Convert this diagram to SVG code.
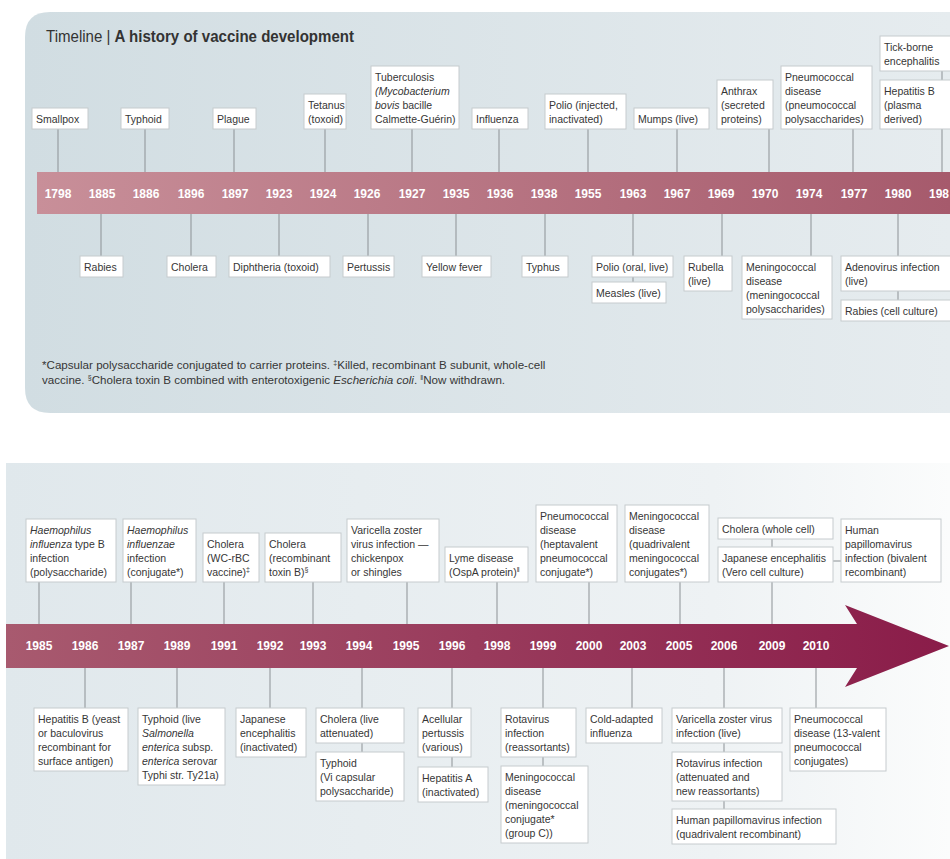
<svg xmlns="http://www.w3.org/2000/svg" width="950" height="859" viewBox="0 0 950 859">
<defs>
  <linearGradient id="panelTop" x1="0" x2="1" y1="0" y2="0">
    <stop offset="0" stop-color="#d1dde2"/>
    <stop offset="1" stop-color="#e6ecef"/>
  </linearGradient>
  <linearGradient id="panelBottom" x1="0" x2="1" y1="0" y2="0">
    <stop offset="0" stop-color="#e0e8ec"/>
    <stop offset="0.75" stop-color="#eef2f4"/>
    <stop offset="1" stop-color="#fbfcfc"/>
  </linearGradient>
  <linearGradient id="barTop" x1="0" x2="1" y1="0" y2="0">
    <stop offset="0" stop-color="#c88f99"/>
    <stop offset="1" stop-color="#a65a6c"/>
  </linearGradient>
  <linearGradient id="barBottom" x1="0" x2="1" y1="0" y2="0">
    <stop offset="0" stop-color="#a85a6f"/>
    <stop offset="1" stop-color="#8a1c49"/>
  </linearGradient>
  <style>
    .box { fill: #ffffff; stroke: #c6cbce; stroke-width: 1; }
    .lbl { font-family: "Liberation Sans", Arial, sans-serif; font-size: 10.5px; fill: #363636; }
    .note { font-family: "Liberation Sans", Arial, sans-serif; font-size: 11.6px; fill: #363636; }
    .yr { font-family: "Liberation Sans", Arial, sans-serif; font-size: 12px; font-weight: bold; fill: #ffffff; text-anchor: middle; }
    .ln { stroke: #8c9195; stroke-width: 1; fill: none; }
    .it { font-style: italic; }
    .sup { font-size: 7px; }
  </style>
</defs>

<!-- background panels -->
<rect x="0" y="0" width="950" height="859" fill="#ffffff"/>
<path d="M25,37 Q25,12 50,12 H950 V413 H50 Q25,413 25,388 Z" fill="url(#panelTop)"/>
<rect x="6" y="463" width="944" height="396" fill="url(#panelBottom)"/>

<!-- title -->
<text x="46" y="42" font-family="'Liberation Sans', Arial, sans-serif" font-size="16" fill="#333333" textLength="308" lengthAdjust="spacingAndGlyphs">Timeline | <tspan font-weight="bold">A history of vaccine development</tspan></text>

<!-- timeline bars -->
<rect x="37" y="172" width="913" height="42" fill="url(#barTop)"/>
<polygon points="6,624 857,624 845,605 949,646 845,687 857,668 6,668" fill="url(#barBottom)"/>

<!-- years, upper timeline -->
<g id="years-top">
  <text class="yr" x="58" y="197.5">1798</text>
  <text class="yr" x="102" y="197.5">1885</text>
  <text class="yr" x="146" y="197.5">1886</text>
  <text class="yr" x="191" y="197.5">1896</text>
  <text class="yr" x="235" y="197.5">1897</text>
  <text class="yr" x="279" y="197.5">1923</text>
  <text class="yr" x="323" y="197.5">1924</text>
  <text class="yr" x="367" y="197.5">1926</text>
  <text class="yr" x="412" y="197.5">1927</text>
  <text class="yr" x="456" y="197.5">1935</text>
  <text class="yr" x="500" y="197.5">1936</text>
  <text class="yr" x="544" y="197.5">1938</text>
  <text class="yr" x="588" y="197.5">1955</text>
  <text class="yr" x="633" y="197.5">1963</text>
  <text class="yr" x="677" y="197.5">1967</text>
  <text class="yr" x="721" y="197.5">1969</text>
  <text class="yr" x="765" y="197.5">1970</text>
  <text class="yr" x="809" y="197.5">1974</text>
  <text class="yr" x="854" y="197.5">1977</text>
  <text class="yr" x="898" y="197.5">1980</text>
  <text class="yr" x="929" y="197.5" style="text-anchor:start">198</text>
</g>

<!-- years, lower timeline -->
<g id="years-bottom">
  <text class="yr" x="39" y="649.5">1985</text>
  <text class="yr" x="85" y="649.5">1986</text>
  <text class="yr" x="131" y="649.5">1987</text>
  <text class="yr" x="177" y="649.5">1989</text>
  <text class="yr" x="224" y="649.5">1991</text>
  <text class="yr" x="270" y="649.5">1992</text>
  <text class="yr" x="313" y="649.5">1993</text>
  <text class="yr" x="359" y="649.5">1994</text>
  <text class="yr" x="406" y="649.5">1995</text>
  <text class="yr" x="452" y="649.5">1996</text>
  <text class="yr" x="497" y="649.5">1998</text>
  <text class="yr" x="543" y="649.5">1999</text>
  <text class="yr" x="589" y="649.5">2000</text>
  <text class="yr" x="633" y="649.5">2003</text>
  <text class="yr" x="679" y="649.5">2005</text>
  <text class="yr" x="724" y="649.5">2006</text>
  <text class="yr" x="772" y="649.5">2009</text>
  <text class="yr" x="816" y="649.5">2010</text>
</g>

<!-- connectors -->
<g id="connectors" class="ln">
  <line x1="58" y1="129" x2="58" y2="172"/>
  <line x1="145" y1="129" x2="145" y2="172"/>
  <line x1="234" y1="129" x2="234" y2="172"/>
  <line x1="325" y1="129" x2="325" y2="172"/>
  <line x1="412" y1="129" x2="412" y2="172"/>
  <line x1="499" y1="129" x2="499" y2="172"/>
  <line x1="588" y1="129" x2="588" y2="172"/>
  <line x1="677" y1="129" x2="677" y2="172"/>
  <line x1="769" y1="129" x2="769" y2="172"/>
  <line x1="853" y1="129" x2="853" y2="172"/>
  <line x1="942" y1="129" x2="942" y2="172"/>
  <line x1="942" y1="71" x2="942" y2="80"/>

  <line x1="101" y1="214" x2="101" y2="256"/>
  <line x1="191" y1="214" x2="191" y2="256"/>
  <line x1="279" y1="214" x2="279" y2="256"/>
  <line x1="368" y1="214" x2="368" y2="256"/>
  <line x1="456" y1="214" x2="456" y2="256"/>
  <line x1="545" y1="214" x2="545" y2="256"/>
  <line x1="633" y1="214" x2="633" y2="256"/>
  <line x1="722" y1="214" x2="722" y2="256"/>
  <line x1="811" y1="214" x2="811" y2="256"/>
  <line x1="898" y1="214" x2="898" y2="256"/>
  <line x1="633" y1="277" x2="633" y2="282"/>
  <line x1="898" y1="291" x2="898" y2="300"/>

  <line x1="39" y1="582" x2="39" y2="624"/>
  <line x1="131" y1="582" x2="131" y2="624"/>
  <line x1="224" y1="582" x2="224" y2="624"/>
  <line x1="313" y1="582" x2="313" y2="624"/>
  <line x1="407" y1="582" x2="407" y2="624"/>
  <line x1="497" y1="582" x2="497" y2="624"/>
  <line x1="589" y1="582" x2="589" y2="624"/>
  <line x1="680" y1="582" x2="680" y2="624"/>
  <line x1="772" y1="582" x2="772" y2="624"/>
  <line x1="772" y1="539" x2="772" y2="547"/>
  <line x1="833" y1="561" x2="841" y2="561"/>

  <line x1="85" y1="668" x2="85" y2="708"/>
  <line x1="177" y1="668" x2="177" y2="708"/>
  <line x1="270" y1="668" x2="270" y2="708"/>
  <line x1="362" y1="668" x2="362" y2="708"/>
  <line x1="452" y1="668" x2="452" y2="708"/>
  <line x1="543" y1="668" x2="543" y2="708"/>
  <line x1="632" y1="668" x2="632" y2="708"/>
  <line x1="724" y1="668" x2="724" y2="708"/>
  <line x1="816" y1="668" x2="816" y2="708"/>
  <line x1="362" y1="743" x2="362" y2="752"/>
  <line x1="452" y1="757" x2="452" y2="767"/>
  <line x1="543" y1="757" x2="543" y2="766"/>
  <line x1="724" y1="743" x2="724" y2="752"/>
  <line x1="724" y1="801" x2="724" y2="809"/>
</g>

<!-- upper timeline, events above the bar -->
<g id="smallpox"><rect class="box" x="32" y="108" width="56" height="21"/><text class="lbl" x="36" y="122.5">Smallpox</text></g>
<g id="typhoid-1896"><rect class="box" x="121" y="108" width="48" height="21"/><text class="lbl" x="125" y="122.5">Typhoid</text></g>
<g id="plague"><rect class="box" x="213" y="108" width="43" height="21"/><text class="lbl" x="217" y="122.5">Plague</text></g>
<g id="tetanus"><rect class="box" x="304" y="94" width="42" height="35"/><text class="lbl" x="308" y="108.5"><tspan x="308">Tetanus</tspan><tspan x="308" dy="14">(toxoid)</tspan></text></g>
<g id="tuberculosis"><rect class="box" x="371" y="66" width="88" height="63"/><text class="lbl" x="375" y="80.5"><tspan x="375">Tuberculosis</tspan><tspan x="375" dy="14" class="it">(Mycobacterium</tspan><tspan x="375" dy="14"><tspan class="it">bovis</tspan> bacille</tspan><tspan x="375" dy="14">Calmette-Guérin)</tspan></text></g>
<g id="influenza"><rect class="box" x="472" y="108" width="56" height="21"/><text class="lbl" x="476" y="122.5">Influenza</text></g>
<g id="polio-injected"><rect class="box" x="545" y="94" width="81" height="35"/><text class="lbl" x="549" y="108.5"><tspan x="549">Polio (injected,</tspan><tspan x="549" dy="14">inactivated)</tspan></text></g>
<g id="mumps"><rect class="box" x="634" y="108" width="75" height="21"/><text class="lbl" x="638" y="122.5">Mumps (live)</text></g>
<g id="anthrax"><rect class="box" x="717" y="80" width="56" height="49"/><text class="lbl" x="721" y="94.5"><tspan x="721">Anthrax</tspan><tspan x="721" dy="14">(secreted</tspan><tspan x="721" dy="14">proteins)</tspan></text></g>
<g id="pneumococcal-1977"><rect class="box" x="781" y="66" width="91" height="63"/><text class="lbl" x="785" y="80.5"><tspan x="785">Pneumococcal</tspan><tspan x="785" dy="14">disease</tspan><tspan x="785" dy="14">(pneumococcal</tspan><tspan x="785" dy="14">polysaccharides)</tspan></text></g>
<g id="hepatitis-b-plasma"><rect class="box" x="880" y="80" width="80" height="49"/><text class="lbl" x="884" y="94.5"><tspan x="884">Hepatitis B</tspan><tspan x="884" dy="14">(plasma</tspan><tspan x="884" dy="14">derived)</tspan></text></g>
<g id="tick-borne"><rect class="box" x="880" y="36" width="80" height="35"/><text class="lbl" x="884" y="50.5"><tspan x="884">Tick-borne</tspan><tspan x="884" dy="14">encephalitis</tspan></text></g>

<!-- upper timeline, events below the bar -->
<g id="rabies"><rect class="box" x="80" y="256" width="43" height="21"/><text class="lbl" x="84" y="270.5">Rabies</text></g>
<g id="cholera-1896"><rect class="box" x="167" y="256" width="49" height="21"/><text class="lbl" x="171" y="270.5">Cholera</text></g>
<g id="diphtheria"><rect class="box" x="229" y="256" width="101" height="21"/><text class="lbl" x="233" y="270.5">Diphtheria (toxoid)</text></g>
<g id="pertussis"><rect class="box" x="343" y="256" width="51" height="21"/><text class="lbl" x="347" y="270.5">Pertussis</text></g>
<g id="yellow-fever"><rect class="box" x="422" y="256" width="69" height="21"/><text class="lbl" x="426" y="270.5">Yellow fever</text></g>
<g id="typhus"><rect class="box" x="522" y="256" width="46" height="21"/><text class="lbl" x="526" y="270.5">Typhus</text></g>
<g id="polio-oral"><rect class="box" x="592" y="256" width="81" height="21"/><text class="lbl" x="596" y="270.5">Polio (oral, live)</text></g>
<g id="measles"><rect class="box" x="592" y="282" width="74" height="21"/><text class="lbl" x="596" y="296.5">Measles (live)</text></g>
<g id="rubella"><rect class="box" x="684" y="256" width="48" height="35"/><text class="lbl" x="688" y="270.5"><tspan x="688">Rubella</tspan><tspan x="688" dy="14">(live)</tspan></text></g>
<g id="meningococcal-1974"><rect class="box" x="742" y="256" width="90" height="63"/><text class="lbl" x="746" y="270.5"><tspan x="746">Meningococcal</tspan><tspan x="746" dy="14">disease</tspan><tspan x="746" dy="14">(meningococcal</tspan><tspan x="746" dy="14">polysaccharides)</tspan></text></g>
<g id="adenovirus"><rect class="box" x="841" y="256" width="115" height="35"/><text class="lbl" x="845" y="270.5"><tspan x="845">Adenovirus infection</tspan><tspan x="845" dy="14">(live)</tspan></text></g>
<g id="rabies-cell-culture"><rect class="box" x="841" y="300" width="115" height="21"/><text class="lbl" x="845" y="314.5">Rabies (cell culture)</text></g>

<!-- footnotes -->
<text class="note" x="42" y="369">*Capsular polysaccharide conjugated to carrier proteins. <tspan class="sup" dy="-4">‡</tspan><tspan dy="4">Killed, recombinant B subunit, whole-cell</tspan></text>
<text class="note" x="42" y="384">vaccine. <tspan class="sup" dy="-4">§</tspan><tspan dy="4">Cholera toxin B combined with enterotoxigenic </tspan><tspan class="it">Escherichia coli</tspan>. <tspan class="sup" dy="-4">‖</tspan><tspan dy="4">Now withdrawn.</tspan></text>

<!-- lower timeline, events above the bar -->
<g id="hib-polysaccharide"><rect class="box" x="26" y="519" width="90" height="63"/><text class="lbl" x="30" y="533.5"><tspan x="30" class="it">Haemophilus</tspan><tspan x="30" dy="14"><tspan class="it">influenza</tspan> type B</tspan><tspan x="30" dy="14">infection</tspan><tspan x="30" dy="14">(polysaccharide)</tspan></text></g>
<g id="hib-conjugate"><rect class="box" x="123" y="519" width="73" height="63"/><text class="lbl" x="127" y="533.5"><tspan x="127" class="it">Haemophilus</tspan><tspan x="127" dy="14" class="it">influenzae</tspan><tspan x="127" dy="14">infection</tspan><tspan x="127" dy="14">(conjugate*)</tspan></text></g>
<g id="cholera-wc-rbc"><rect class="box" x="203" y="533" width="56" height="49"/><text class="lbl" x="207" y="547.5"><tspan x="207">Cholera</tspan><tspan x="207" dy="14">(WC-rBC</tspan><tspan x="207" dy="14">vaccine)</tspan><tspan class="sup" dy="-4">‡</tspan></text></g>
<g id="cholera-toxin-b"><rect class="box" x="265" y="533" width="76" height="49"/><text class="lbl" x="269" y="547.5"><tspan x="269">Cholera</tspan><tspan x="269" dy="14">(recombinant</tspan><tspan x="269" dy="14">toxin B)</tspan><tspan class="sup" dy="-4">§</tspan></text></g>
<g id="varicella-1995"><rect class="box" x="347" y="519" width="92" height="63"/><text class="lbl" x="351" y="533.5"><tspan x="351">Varicella zoster</tspan><tspan x="351" dy="14">virus infection —</tspan><tspan x="351" dy="14">chickenpox</tspan><tspan x="351" dy="14">or shingles</tspan></text></g>
<g id="lyme"><rect class="box" x="445" y="547" width="83" height="35"/><text class="lbl" x="449" y="561.5"><tspan x="449">Lyme disease</tspan><tspan x="449" dy="14">(OspA protein)</tspan><tspan class="sup" dy="-4">‖</tspan></text></g>
<g id="pneumococcal-heptavalent"><rect class="box" x="536" y="505" width="81" height="77"/><text class="lbl" x="540" y="519.5"><tspan x="540">Pneumococcal</tspan><tspan x="540" dy="14">disease</tspan><tspan x="540" dy="14">(heptavalent</tspan><tspan x="540" dy="14">pneumococcal</tspan><tspan x="540" dy="14">conjugate*)</tspan></text></g>
<g id="meningococcal-quadrivalent"><rect class="box" x="625" y="505" width="84" height="77"/><text class="lbl" x="629" y="519.5"><tspan x="629">Meningococcal</tspan><tspan x="629" dy="14">disease</tspan><tspan x="629" dy="14">(quadrivalent</tspan><tspan x="629" dy="14">meningococcal</tspan><tspan x="629" dy="14">conjugates*)</tspan></text></g>
<g id="cholera-whole-cell"><rect class="box" x="718" y="518" width="115" height="21"/><text class="lbl" x="722" y="532.5">Cholera (whole cell)</text></g>
<g id="japanese-encephalitis-vero"><rect class="box" x="718" y="547" width="115" height="35"/><text class="lbl" x="722" y="561.5"><tspan x="722">Japanese encephalitis</tspan><tspan x="722" dy="14">(Vero cell culture)</tspan></text></g>
<g id="hpv-bivalent"><rect class="box" x="841" y="519" width="100" height="63"/><text class="lbl" x="845" y="533.5"><tspan x="845">Human</tspan><tspan x="845" dy="14">papillomavirus</tspan><tspan x="845" dy="14">infection (bivalent</tspan><tspan x="845" dy="14">recombinant)</tspan></text></g>

<!-- lower timeline, events below the bar -->
<g id="hepatitis-b-recombinant"><rect class="box" x="34" y="708" width="94" height="63"/><text class="lbl" x="38" y="722.5"><tspan x="38">Hepatitis B (yeast</tspan><tspan x="38" dy="14">or baculovirus</tspan><tspan x="38" dy="14">recombinant for</tspan><tspan x="38" dy="14">surface antigen)</tspan></text></g>
<g id="typhoid-ty21a"><rect class="box" x="138" y="708" width="87" height="77"/><text class="lbl" x="142" y="722.5"><tspan x="142">Typhoid (live</tspan><tspan x="142" dy="14" class="it">Salmonella</tspan><tspan x="142" dy="14"><tspan class="it">enterica</tspan> subsp.</tspan><tspan x="142" dy="14"><tspan class="it">enterica</tspan> serovar</tspan><tspan x="142" dy="14">Typhi str. Ty21a)</tspan></text></g>
<g id="japanese-encephalitis-inactivated"><rect class="box" x="236" y="708" width="70" height="49"/><text class="lbl" x="240" y="722.5"><tspan x="240">Japanese</tspan><tspan x="240" dy="14">encephalitis</tspan><tspan x="240" dy="14">(inactivated)</tspan></text></g>
<g id="cholera-live"><rect class="box" x="316" y="708" width="88" height="35"/><text class="lbl" x="320" y="722.5"><tspan x="320">Cholera (live</tspan><tspan x="320" dy="14">attenuated)</tspan></text></g>
<g id="typhoid-vi"><rect class="box" x="316" y="752" width="88" height="49"/><text class="lbl" x="320" y="766.5"><tspan x="320">Typhoid</tspan><tspan x="320" dy="14">(Vi capsular</tspan><tspan x="320" dy="14">polysaccharide)</tspan></text></g>
<g id="acellular-pertussis"><rect class="box" x="418" y="708" width="53" height="49"/><text class="lbl" x="422" y="722.5"><tspan x="422">Acellular</tspan><tspan x="422" dy="14">pertussis</tspan><tspan x="422" dy="14">(various)</tspan></text></g>
<g id="hepatitis-a"><rect class="box" x="418" y="767" width="70" height="35"/><text class="lbl" x="422" y="781.5"><tspan x="422">Hepatitis A</tspan><tspan x="422" dy="14">(inactivated)</tspan></text></g>
<g id="rotavirus-reassortants"><rect class="box" x="501" y="708" width="75" height="49"/><text class="lbl" x="505" y="722.5"><tspan x="505">Rotavirus</tspan><tspan x="505" dy="14">infection</tspan><tspan x="505" dy="14">(reassortants)</tspan></text></g>
<g id="meningococcal-group-c"><rect class="box" x="501" y="766" width="87" height="77"/><text class="lbl" x="505" y="780.5"><tspan x="505">Meningococcal</tspan><tspan x="505" dy="14">disease</tspan><tspan x="505" dy="14">(meningococcal</tspan><tspan x="505" dy="14">conjugate*</tspan><tspan x="505" dy="14">(group C))</tspan></text></g>
<g id="cold-adapted-influenza"><rect class="box" x="586" y="708" width="76" height="35"/><text class="lbl" x="590" y="722.5"><tspan x="590">Cold-adapted</tspan><tspan x="590" dy="14">influenza</tspan></text></g>
<g id="varicella-live"><rect class="box" x="672" y="708" width="110" height="35"/><text class="lbl" x="676" y="722.5"><tspan x="676">Varicella zoster virus</tspan><tspan x="676" dy="14">infection (live)</tspan></text></g>
<g id="rotavirus-attenuated"><rect class="box" x="672" y="752" width="110" height="49"/><text class="lbl" x="676" y="766.5"><tspan x="676">Rotavirus infection</tspan><tspan x="676" dy="14">(attenuated and</tspan><tspan x="676" dy="14">new reassortants)</tspan></text></g>
<g id="hpv-quadrivalent"><rect class="box" x="672" y="809" width="164" height="35"/><text class="lbl" x="676" y="823.5"><tspan x="676">Human papillomavirus infection</tspan><tspan x="676" dy="14">(quadrivalent recombinant)</tspan></text></g>
<g id="pneumococcal-13-valent"><rect class="box" x="790" y="708" width="96" height="63"/><text class="lbl" x="794" y="722.5"><tspan x="794">Pneumococcal</tspan><tspan x="794" dy="14">disease (13-valent</tspan><tspan x="794" dy="14">pneumococcal</tspan><tspan x="794" dy="14">conjugates)</tspan></text></g>
</svg>
